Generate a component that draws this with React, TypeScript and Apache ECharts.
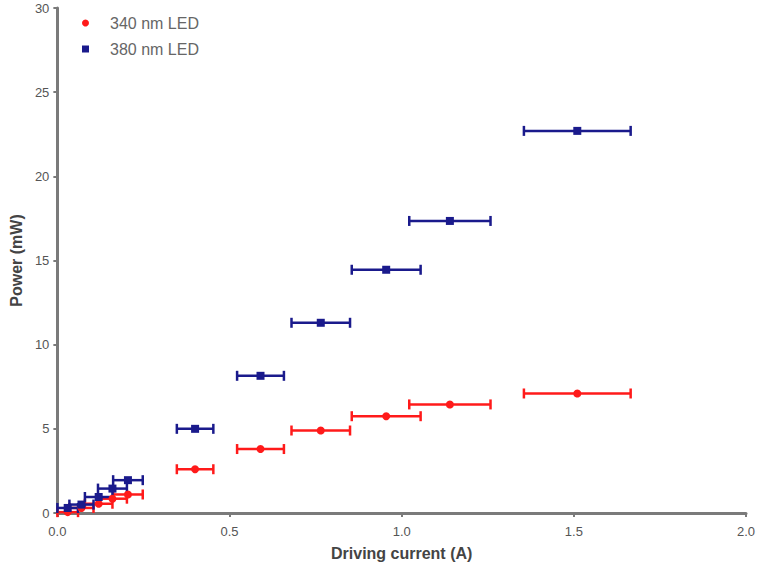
import React, { useEffect, useRef } from "react";
import * as echarts from "echarts";

const current = [0.03, 0.07, 0.12, 0.16, 0.205, 0.40, 0.59, 0.765, 0.955, 1.14, 1.51];
const currentErr = [0.03, 0.035, 0.04, 0.042, 0.043, 0.053, 0.068, 0.085, 0.1, 0.118, 0.155];
const power340 = [0.05, 0.3, 0.55, 0.85, 1.1, 2.6, 3.8, 4.9, 5.75, 6.45, 7.1];
const power380 = [0.3, 0.5, 0.95, 1.45, 1.95, 5.0, 8.15, 11.3, 14.45, 17.35, 22.7];
const seriesNames = ["340 nm LED", "380 nm LED"];
const colors = ["#ff1a1a", "#1a1a8c"];

const FONT = "'Liberation Sans', Arial, sans-serif";

function errData(ys: number[]) {
  return current.map((x, i) => [x, ys[i], x - currentErr[i], x + currentErr[i]]);
}

function errRender(color: string) {
  return (params: any, api: any) => {
    const y = api.value(1);
    const lo = api.coord([api.value(2), y]);
    const hi = api.coord([api.value(3), y]);
    const cap = 5;
    const style = { stroke: color, lineWidth: 2.5 };
    return {
      type: "group",
      children: [
        { type: "line", shape: { x1: lo[0], y1: lo[1], x2: hi[0], y2: hi[1] }, style },
        { type: "line", shape: { x1: lo[0], y1: lo[1] - cap, x2: lo[0], y2: lo[1] + cap }, style },
        { type: "line", shape: { x1: hi[0], y1: hi[1] - cap, x2: hi[0], y2: hi[1] + cap }, style },
      ],
    };
  };
}

export default function App() {
  const ref = useRef<HTMLDivElement>(null);
  useEffect(() => {
    const chart = echarts.init(ref.current!, null, { renderer: "svg" });
    chart.setOption({
      animation: false,
      backgroundColor: "#ffffff",
      textStyle: { fontFamily: FONT },
      grid: { left: 52, right: 14, top: 8, bottom: 53, containLabel: false },
      legend: {
        orient: "vertical",
        left: 77,
        top: 10,
        itemGap: 10,
        itemWidth: 7,
        itemHeight: 7,
        textStyle: { color: "#666", fontSize: 16, lineHeight: 15, fontFamily: FONT, padding: [0, 0, 0, 16] },
        data: [
          { name: seriesNames[0], icon: "circle" },
          { name: seriesNames[1], icon: "rect" },
        ],
      },
      xAxis: {
        type: "value",
        min: 0,
        max: 2,
        interval: 0.5,
        name: "Driving current (A)",
        nameLocation: "middle",
        nameGap: 32,
        nameTextStyle: { color: "#444", fontSize: 16, fontWeight: "bold", fontFamily: FONT },
        axisLine: { show: true, lineStyle: { color: "#7a7a7a", width: 3 } },
        axisTick: { show: true, length: 4, lineStyle: { color: "#7a7a7a", width: 2 } },
        axisLabel: { color: "#555", fontSize: 13, margin: 12, formatter: (v: number) => v.toFixed(1) },
        splitLine: { show: false },
      },
      yAxis: {
        type: "value",
        min: 0,
        max: 30,
        interval: 5,
        name: "Power (mW)",
        nameLocation: "middle",
        nameGap: 33,
        nameRotate: 90,
        nameTextStyle: { color: "#444", fontSize: 16, fontWeight: "bold", fontFamily: FONT },
        axisLine: { show: true, lineStyle: { color: "#7a7a7a", width: 3 } },
        axisTick: { show: true, length: 4, lineStyle: { color: "#7a7a7a", width: 2 } },
        axisLabel: { color: "#555", fontSize: 13, margin: 8 },
        splitLine: { show: false },
      },
      series: [
        {
          type: "custom",
          name: seriesNames[0],
          renderItem: errRender(colors[0]),
          data: errData(power340),
          itemStyle: { color: colors[0] },
          encode: { x: [0, 2, 3], y: 1 },
          z: 2,
        },
        {
          type: "custom",
          name: seriesNames[1],
          renderItem: errRender(colors[1]),
          data: errData(power380),
          itemStyle: { color: colors[1] },
          encode: { x: [0, 2, 3], y: 1 },
          z: 3,
        },
        {
          type: "scatter",
          name: seriesNames[0],
          symbol: "circle",
          symbolSize: 8,
          itemStyle: { color: colors[0], opacity: 1 },
          data: current.map((x, i) => [x, power340[i]]),
          z: 4,
        },
        {
          type: "scatter",
          name: seriesNames[1],
          symbol: "rect",
          symbolSize: 8,
          itemStyle: { color: colors[1], opacity: 1 },
          data: current.map((x, i) => [x, power380[i]]),
          z: 5,
        },
      ],
    });
    return () => chart.dispose();
  }, []);
  return <div ref={ref} style={{ width: 760, height: 566, position: "absolute", left: 0, top: 0 }} />;
}
